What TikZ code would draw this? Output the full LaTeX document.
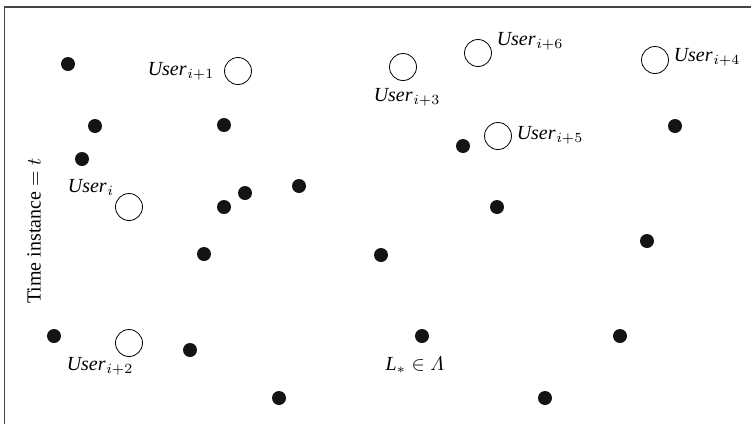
\documentclass[tikz,border=0pt]{standalone}
\usepackage{amsmath}
\usepackage{fontspec}
\setmainfont{Liberation Serif}
\usepackage{tikz}
\definecolor{framegray}{HTML}{444444}
\newcommand{\usr}[1]{\textit{User}\kern0.3pt$_{#1}$}

\begin{document}
\begin{tikzpicture}[x=0.5pt,y=-0.5pt,
      dot/.style={circle,fill=black!92,inner sep=0pt,minimum size=7pt},
      user/.style={circle,draw,thin,fill=white,inner sep=0pt,minimum size=13.5pt},
      lbl/.style={inner sep=0pt,font=\normalsize}]
    \useasboundingbox (0,0) rectangle (751,424);
    %% ── Frame (left and top edge) ───────────────────────────
    \draw[framegray,line width=0.75pt] (4.5,424) -- (4.5,7) -- (751,7);
    %% ── Users ───────────────────────────────────────────────
    \node[user] (u0) at (129,207) {};
    \node[user] (u1) at (238,71)  {};
    \node[user] (u2) at (129,343) {};
    \node[user] (u3) at (403,67)  {};
    \node[user] (u4) at (655,60)  {};
    \node[user] (u5) at (498,136) {};
    \node[user] (u6) at (478,53)  {};
    %% ── User labels ─────────────────────────────────────────
    \node[lbl] (l0) at (91,187)  {\usr{i}};
    \node[lbl] (l1) at (181,71)  {\usr{i+1}};
    \node[lbl] (l2) at (100,366) {\usr{i+2}};
    \node[lbl] (l3) at (407,97)  {\usr{i+3}};
    \node[lbl] (l4) at (707,57)  {\usr{i+4}};
    \node[lbl] (l5) at (550,135) {\usr{i+5}};
    \node[lbl] (l6) at (530,41)  {\usr{i+6}};
    %% ── Candidate locations ─────────────────────────────────
    \node[dot] (d1)  at (68,64)   {};
    \node[dot] (d2)  at (95,126)  {};
    \node[dot] (d3)  at (82,159)  {};
    \node[dot] (d4)  at (224,125) {};
    \node[dot] (d5)  at (245,193) {};
    \node[dot] (d6)  at (224,207) {};
    \node[dot] (d7)  at (299,186) {};
    \node[dot] (d8)  at (204,254) {};
    \node[dot] (d9)  at (381,255) {};
    \node[dot] (d10) at (463,146) {};
    \node[dot] (d11) at (497,207) {};
    \node[dot] (d12) at (675,126) {};
    \node[dot] (d13) at (647,241) {};
    \node[dot] (d14) at (54,336)  {};
    \node[dot] (d15) at (190,350) {};
    \node[dot] (d16) at (422,336) {};
    \node[dot] (d17) at (620,336) {};
    \node[dot] (d18) at (279,398) {};
    \node[dot] (d19) at (545,398) {};
    %% ── Other labels ────────────────────────────────────────
    \node[lbl] (lset) at (415,365) {\textit{L}$_* \in \varLambda$};
    \node[lbl,rotate=90] (time) at (34,231) {Time instance $=t$};
  \end{tikzpicture}
\end{document}
